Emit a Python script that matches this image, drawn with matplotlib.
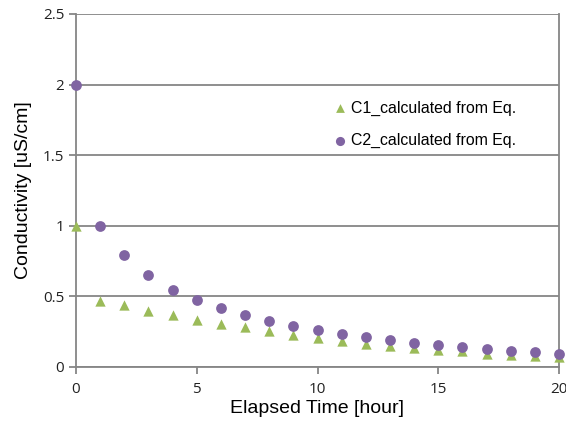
import matplotlib
matplotlib.use("Agg")
import matplotlib.pyplot as plt

hours = list(range(21))
c1 = [1.0, 0.467, 0.44, 0.40, 0.37, 0.335, 0.305, 0.28, 0.255, 0.225, 0.205,
      0.185, 0.165, 0.15, 0.135, 0.12, 0.11, 0.095, 0.085, 0.075, 0.07]
c2 = [2.0, 1.0, 0.79, 0.65, 0.545, 0.475, 0.42, 0.37, 0.325, 0.29, 0.26,
      0.235, 0.21, 0.19, 0.17, 0.155, 0.14, 0.125, 0.115, 0.105, 0.095]
labels = ["C1_calculated from Eq.", "C2_calculated from Eq."]

grey = "#868686"

fig = plt.figure(figsize=(5.66, 4.28), dpi=100)
ax = fig.add_axes([76 / 566, 61 / 428, 483 / 566, 353 / 428])

ax.scatter(hours, c1, marker="^", s=55, color="#9BBB59", label=labels[0],
           zorder=3, clip_on=False, linewidths=0)
ax.scatter(hours, c2, marker="o", s=60, color="#8064A2", label=labels[1],
           zorder=3, clip_on=False, linewidths=0)

ax.set_xlim(0, 20)
ax.set_ylim(0, 2.5)
ax.set_xticks([0, 5, 10, 15, 20])
ax.set_yticks([0, 0.5, 1, 1.5, 2, 2.5])
ax.set_yticklabels(["0", "0.5", "1", "1.5", "2", "2.5"])

ax.yaxis.grid(True, color=grey, linewidth=1.3)
ax.set_axisbelow(True)
for side in ["left", "bottom", "right"]:
    ax.spines[side].set_color(grey)
    ax.spines[side].set_linewidth(1.3)
ax.spines["top"].set_visible(False)
ax.tick_params(colors=grey, width=1.3, length=5, labelsize=11, labelcolor="#222222")
ax.tick_params(axis="x", pad=6)

for lab in ax.get_xticklabels() + ax.get_yticklabels():
    lab.set_fontfamily("Open Sans")

ax.set_xlabel("Elapsed Time [hour]", fontsize=14, fontfamily="Liberation Sans", labelpad=2)
ax.set_ylabel("Conductivity [uS/cm]", fontsize=14, fontfamily="Liberation Sans", labelpad=8)

leg = ax.legend(loc="upper left", bbox_to_anchor=(0.485, 0.795), frameon=False,
                prop={"family": "Liberation Sans", "size": 11.4},
                handletextpad=-0.35, labelspacing=1.1, markerscale=0.85)

fig.savefig("out.png", dpi=100)
